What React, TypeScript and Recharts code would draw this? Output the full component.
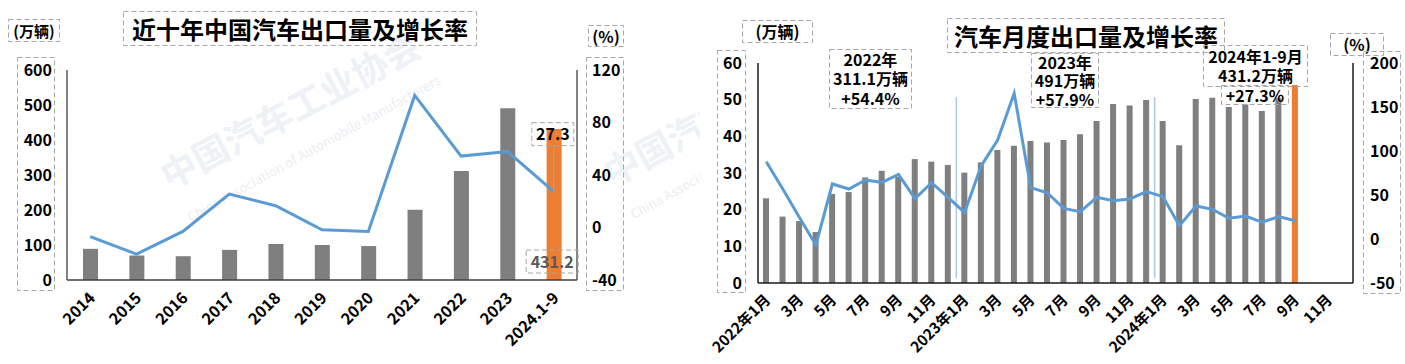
import React from "react";
import {
  ComposedChart,
  Bar,
  Line,
  XAxis,
  YAxis,
  Cell,
  LabelList,
  ReferenceLine,
} from "recharts";

const FONT = "'Noto Sans CJK SC', 'Noto Sans', sans-serif";
const GRAY = "#7f7f7f";
const ORANGE = "#ed7d31";
const BLUE = "#5b9bd5";
const DASH = "#a6a6a6";

// 近十年 (万辆, %)
const years = ["2014", "2015", "2016", "2017", "2018", "2019", "2020", "2021", "2022", "2023", "2024.1-9"];
const yearVolume = [89, 70, 68, 86, 103, 100, 97, 201, 311.1, 491, 431.2];
const yearGrowth = [-7, -20.3, -3, 25.5, 16.6, -1.8, -3, 100.6, 54.4, 57.9, 27.3];
const leftVolTicks = [0, 100, 200, 300, 400, 500, 600];
const leftRateTicks = [-40, 0, 40, 80, 120];

// 月度 (万辆, %)
const monthLabels = [
  "2022年1月", "2月", "3月", "4月", "5月", "6月", "7月", "8月", "9月", "10月", "11月", "12月",
  "2023年1月", "2月", "3月", "4月", "5月", "6月", "7月", "8月", "9月", "10月", "11月", "12月",
  "2024年1月", "2月", "3月", "4月", "5月", "6月", "7月", "8月", "9月", "10月", "11月", "12月",
];
const monthVolume = [
  23.1, 18.1, 16.9, 13.9, 24.3, 24.8, 28.8, 30.6, 28.9, 33.8, 33.1, 32.2,
  30.1, 32.9, 36.3, 37.4, 38.7, 38.3, 39.0, 40.6, 44.2, 48.8, 48.4, 49.9,
  44.2, 37.6, 50.2, 50.5, 48.0, 48.7, 46.9, 50.4, 54.0, null, null, null,
];
const monthGrowth = [
  87.8, 56.8, 24.7, -6.8, 62.5, 56.8, 67, 64.4, 73.5, 45.8, 64, 47.3,
  29.9, 83, 112.5, 165.5, 58.3, 52.6, 34.8, 31, 47.3, 43.6, 45.5, 53.8,
  48.1, 15.1, 37.5, 33.7, 23.5, 26.1, 19, 25.4, 20.8, null, null, null,
];
const rightVolTicks = [0, 10, 20, 30, 40, 50, 60];
const rightRateTicks = [-50, 0, 50, 100, 150, 200];
const yearStarts = [12, 24];

const notes2022 = ["2022年", "311.1万辆", "+54.4%"];
const notes2023 = ["2023年", "491万辆", "+57.9%"];
const notes2024 = ["2024年1-9月", "431.2万辆"];
const notes2024b = ["+27.3%"];

const yearData = years.map((y, i) => ({ year: y, volume: yearVolume[i], growth: yearGrowth[i] }));
const monthData = monthLabels.map((l, i) => ({ key: i, label: l, volume: monthVolume[i], growth: monthGrowth[i] }));

function DashBox({ x, y, w, h, lines = [], size = 16, lh = 19, color = "#000" }: any) {
  return (
    <div style={{ position: "absolute", left: x, top: y, width: w, height: h }}>
      <svg width={w} height={h} style={{ position: "absolute", left: 0, top: 0 }}>
        <rect x={0.5} y={0.5} width={w - 1} height={h - 1} fill="none" stroke={DASH} strokeDasharray="5 3" />
      </svg>
      <div
        style={{
          position: "absolute",
          inset: 0,
          display: "flex",
          flexDirection: "column",
          justifyContent: "center",
          alignItems: "center",
          fontFamily: FONT,
          fontWeight: 700,
          fontSize: size,
          lineHeight: `${lh}px`,
          color,
          whiteSpace: "nowrap",
        }}
      >
        {lines.map((l: string) => (
          <div key={l}>{l}</div>
        ))}
      </div>
    </div>
  );
}

const YearTick = ({ x, y, payload }: any) => {
  const px = x + 6;
  const py = y + 17;
  return (
    <text x={px} y={py} transform={`rotate(-45 ${px} ${py})`} textAnchor="end" fontSize={16} fontWeight={700} fontFamily={FONT} fill="#000">
      {payload.value}
    </text>
  );
};

const MonthTick = ({ x, y, payload, index }: any) => {
  if (index % 2 === 1) return <g />;
  const px = x + 5;
  const py = y + 16;
  return (
    <text x={px} y={py} transform={`rotate(-45 ${px} ${py})`} textAnchor="end" fontSize={15} fontWeight={700} fontFamily={FONT} fill="#000">
      {monthLabels[payload.value]}
    </text>
  );
};

const tickStyle = { fontSize: 16, fontWeight: 700, fontFamily: FONT, fill: "#000" };

function Watermark({ x, y }: { x: number; y: number }) {
  return (
    <>
      <div
        style={{
          position: "absolute",
          left: x,
          top: y - 25,
          fontFamily: FONT,
          fontWeight: 700,
          fontSize: 36,
          color: "#eef1f5",
          transform: "rotate(-28deg)",
          transformOrigin: "0 50%",
          whiteSpace: "nowrap",
        }}
      >
        中国汽车工业协会
      </div>
      <div
        style={{
          position: "absolute",
          left: x + 26,
          top: y + 33,
          fontFamily: FONT,
          fontSize: 13,
          color: "#eceef2",
          transform: "rotate(-29deg)",
          transformOrigin: "0 50%",
          whiteSpace: "nowrap",
        }}
      >
        China Association of Automobile Manufacturers
      </div>
    </>
  );
}

export default function App() {
  return (
    <div style={{ position: "fixed", left: 0, top: 0, width: 1405, height: 364, background: "#fff", overflow: "hidden" }}>
      {/* watermark of left panel */}
      <div style={{ position: "absolute", left: 0, top: 0, width: 700, height: 364, overflow: "hidden" }}>
        <Watermark x={162} y={175} />
        <Watermark x={605} y={172} />
      </div>

      {/* left chart */}
      <div style={{ position: "absolute", left: 0, top: 0 }}>
        <ComposedChart width={700} height={364} data={yearData} margin={{ top: 70, right: 63, bottom: 0, left: 0 }}>
          <XAxis
            dataKey="year"
            height={84}
            interval={0}
            tick={<YearTick />}
            tickLine={false}
            tickSize={0}
            axisLine={{ stroke: "#404040", strokeWidth: 1.5 }}
          />
          <YAxis
            yAxisId="l"
            domain={[0, 600]}
            ticks={leftVolTicks}
            width={67}
            tick={tickStyle}
            tickLine={false}
            tickSize={0}
            tickMargin={15}
            axisLine={{ stroke: "#595959", strokeWidth: 1.5 }}
          />
          <YAxis
            yAxisId="r"
            orientation="right"
            domain={[-40, 120]}
            ticks={leftRateTicks}
            width={60}
            tick={{ ...tickStyle, textAnchor: "start" }}
            tickLine={false}
            tickSize={0}
            tickMargin={15}
            axisLine={{ stroke: "#595959", strokeWidth: 1.5 }}
          />
          <Bar yAxisId="l" dataKey="volume" barSize={15} fill={GRAY} isAnimationActive={false}>
            {yearData.map((d, i) => (
              <Cell key={d.year} fill={i === yearData.length - 1 ? ORANGE : GRAY} />
            ))}
            <LabelList
              dataKey="volume"
              content={(p: any) =>
                p.index === yearData.length - 1 ? (
                  <g>
                    <rect x={p.x + p.width / 2 - 28} y={p.y + p.height - 30} width={52} height={23} fill="none" stroke={DASH} strokeDasharray="5 3" />
                    <text x={p.x + p.width / 2 - 2} y={p.y + p.height - 12.5} textAnchor="middle" fontSize={16} fontWeight={700} fontFamily={FONT} fill="#595959">
                      {p.value}
                    </text>
                  </g>
                ) : null
              }
            />
          </Bar>
          <Line yAxisId="r" dataKey="growth" stroke={BLUE} strokeWidth={3} dot={false} isAnimationActive={false}>
            <LabelList
              dataKey="growth"
              content={(p: any) =>
                p.index === yearData.length - 1 ? (
                  <g>
                    <line x1={p.x} y1={p.y - 46} x2={p.x} y2={p.y} stroke="#a6a6a6" strokeWidth={1} />
                    <rect x={p.x - 22} y={p.y - 69} width={42} height={23} fill="none" stroke={DASH} strokeDasharray="5 3" />
                    <text x={p.x - 1} y={p.y - 51.5} textAnchor="middle" fontSize={16} fontWeight={700} fontFamily={FONT} fill="#000">
                      {p.value}
                    </text>
                  </g>
                ) : null
              }
            />
          </Line>
        </ComposedChart>
      </div>

      {/* right chart */}
      <div style={{ position: "absolute", left: 700, top: 0 }}>
        <ComposedChart width={705} height={364} data={monthData} margin={{ top: 63, right: 0, bottom: 0, left: 0 }}>
          <XAxis
            dataKey="key"
            height={81}
            interval={0}
            tick={(p: any) => <MonthTick {...p} />}
            tickLine={false}
            tickSize={0}
            axisLine={{ stroke: "#1a1a1a", strokeWidth: 1.5 }}
          />
          <YAxis
            yAxisId="l"
            domain={[0, 60]}
            ticks={rightVolTicks}
            width={58}
            tick={tickStyle}
            tickLine={false}
            tickSize={0}
            tickMargin={16}
            axisLine={{ stroke: "#1a1a1a", strokeWidth: 1.5 }}
          />
          <YAxis
            yAxisId="r"
            orientation="right"
            domain={[-50, 200]}
            ticks={rightRateTicks}
            width={52}
            tick={{ ...tickStyle, textAnchor: "start" }}
            tickLine={false}
            tickSize={0}
            tickMargin={17}
            axisLine={{ stroke: "#1a1a1a", strokeWidth: 1.5 }}
          />
          {yearStarts.map((k) => (
            <ReferenceLine
              key={k}
              yAxisId="l"
              position="start"
              segment={[
                { x: k, y: 1.4 },
                { x: k, y: 50.7 },
              ]}
              stroke="#a9c8e8"
              strokeWidth={1.5}
            />
          ))}
          <Bar yAxisId="l" dataKey="volume" barSize={6} fill={GRAY} isAnimationActive={false}>
            {monthData.map((d, i) => (
              <Cell key={d.key} fill={i === 32 ? ORANGE : GRAY} />
            ))}
          </Bar>
          <Line yAxisId="r" dataKey="growth" stroke={BLUE} strokeWidth={3} dot={false} isAnimationActive={false} />
        </ComposedChart>
      </div>

      {/* left panel boxes */}
      <DashBox x={8} y={19} w={52} h={23} lines={["(万辆)"]} size={15} />
      <DashBox x={17} y={57} w={38} h={234} />
      <DashBox x={123} y={11} w={354} h={35} lines={["近十年中国汽车出口量及增长率"]} size={24} lh={30} />
      <DashBox x={588} y={25} w={36} h={22} lines={["(%)"]} size={16} />
      <DashBox x={586} y={57} w={38} h={234} />

      {/* right panel boxes */}
      <DashBox x={742} y={20} w={71} h={23} lines={["(万辆)"]} size={16} />
      <DashBox x={717} y={50} w={29} h={243} />
      <DashBox x={947} y={18} w={278} h={35} lines={["汽车月度出口量及增长率"]} size={24} lh={30} />
      <DashBox x={829} y={49} w={83} h={60} lines={notes2022} size={16} lh={19.5} />
      <DashBox x={1031} y={53} w={68} h={55} lines={notes2023} size={16} lh={18.5} />
      <DashBox x={1203} y={45} w={105} h={42} lines={notes2024} size={16} lh={19} />
      <DashBox x={1221} y={85} w={68} h={20} lines={notes2024b} size={16} lh={19} />
      <DashBox x={1330} y={33} w={54} h={23} lines={["(%)"]} size={16} />
      <DashBox x={1363} y={51} w={38} h={243} />
    </div>
  );
}
